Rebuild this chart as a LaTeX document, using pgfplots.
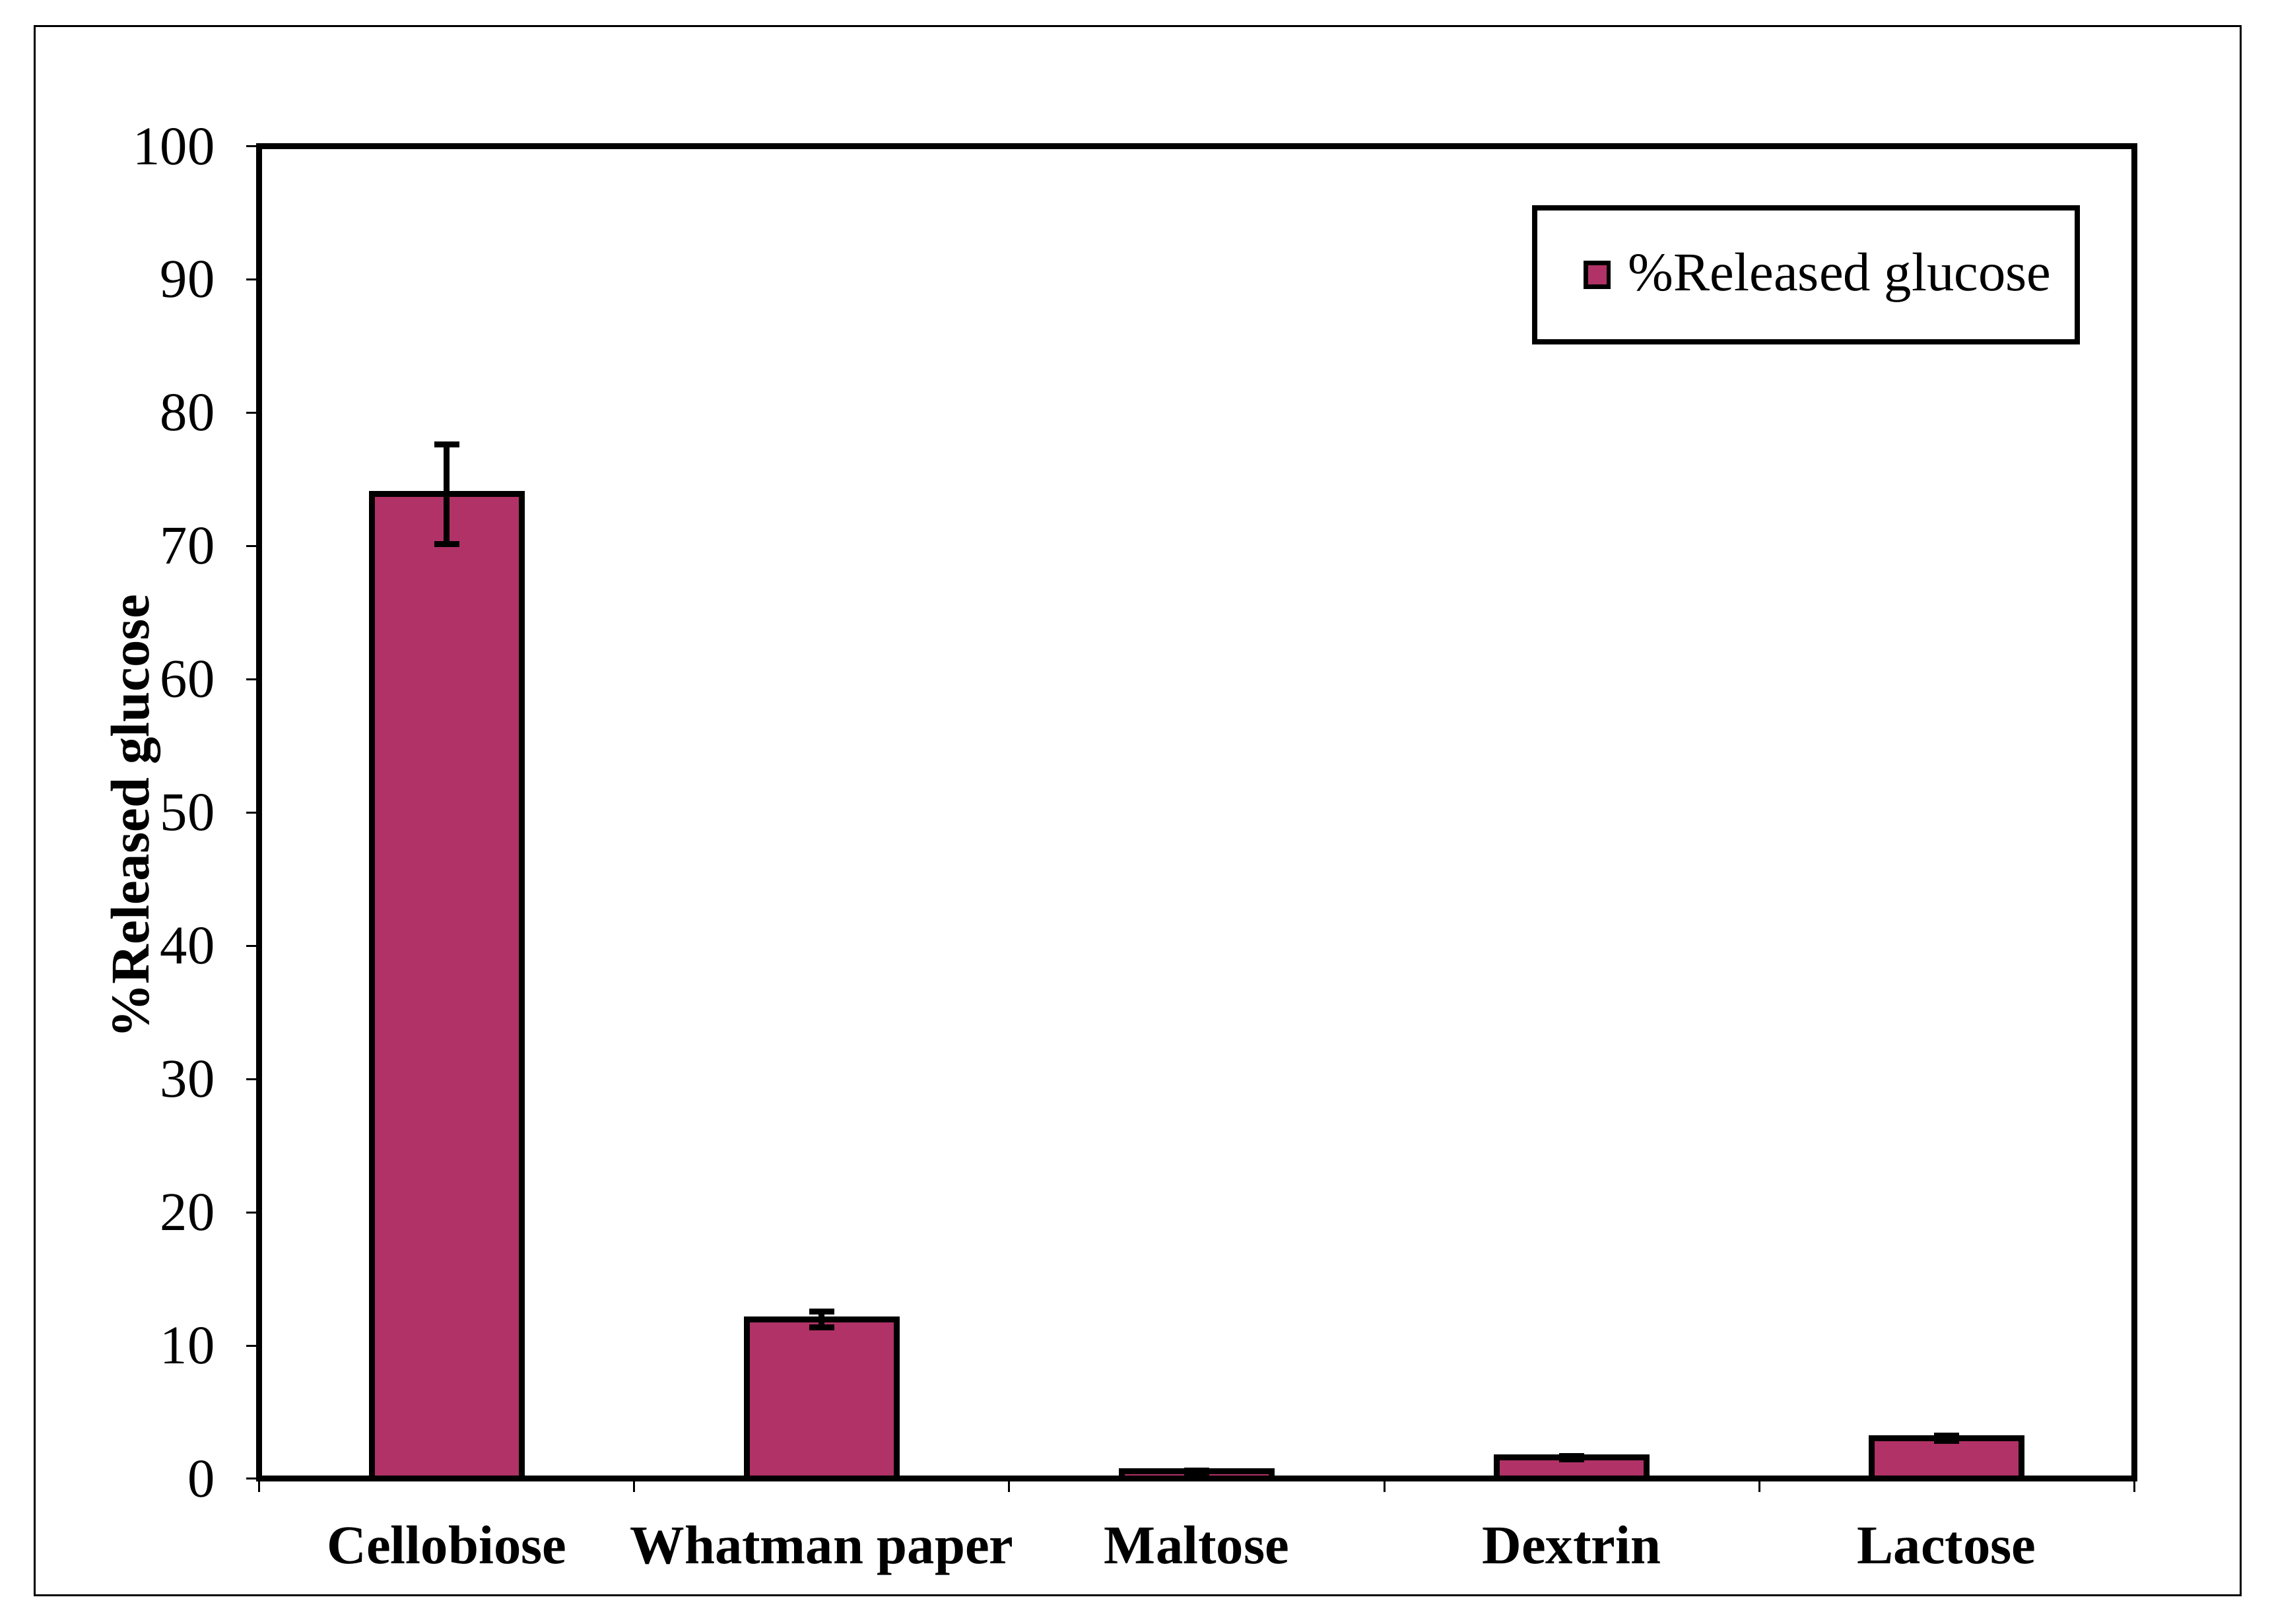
\documentclass[border=0pt]{standalone}
\usepackage{pgfplots}
\pgfplotsset{compat=1.18}
\usepackage{fontspec}
\setmainfont{Liberation Serif}
\definecolor{barpink}{RGB}{177,50,103}
\begin{document}
\begin{tikzpicture}
\begin{axis}[
  name=ax,
  scale only axis,
  width=426pt, height=302.85pt,
  ybar, bar width=0.4,
  xmin=-0.5, xmax=4.5,
  ymin=0, ymax=100,
  ytick={0,10,...,100},
  xtick={0,1,2,3,4},
  xticklabels={Cellobiose,Whatman paper,Maltose,Dextrin,Lactose},
  minor xtick={-0.5,0.5,1.5,2.5,3.5,4.5},
  major x tick style={draw=none},
  xtick pos=bottom, ytick pos=left,
  tick align=outside,
  major tick length=3pt, minor tick length=3pt,
  tick style={line width=0.45pt, black},
  axis line style={line width=1.35pt},
  /pgf/number format/assume math mode=true,
  yticklabel style={font=\fontsize{12.4}{14}\selectfont, xshift=-3.6pt},
  xticklabel style={font=\fontsize{12.4}{14}\selectfont\bfseries, anchor=base, yshift=-16.3pt},
  ylabel={\%Released glucose},
  ylabel style={font=\fontsize{12.4}{14}\selectfont\bfseries, at={(axis description cs:-0.0657,0.497)}, anchor=center},
  legend style={at={(0.971,0.956)}, anchor=north east, draw=black, line width=1.2pt,
    font=\fontsize{12.4}{14}\selectfont, inner xsep=5.9pt, inner ysep=10.2pt,
    nodes={inner sep=0pt},
    /tikz/every odd column/.append style={column sep=4pt}},
]
\addplot[fill=barpink, draw=black, line width=1.35pt,
  legend image code/.code={\path (-5pt,0pt); \draw[fill=barpink, draw=black, line width=1pt] (0pt,-2.7pt) rectangle (5.2pt,2.7pt);},
  error bars/.cd, y dir=both, y explicit,
  error bar style={line width=1.35pt, black},
  error mark options={rotate=90, mark size=2.9pt, line width=1.35pt, black}]
  table[x=x, y=y, y error=e] {
x y e
0 73.9 3.75
1 11.95 0.6
2 0.55 0.07
3 1.6 0.12
4 3.05 0.18
};
\addlegendentry{\%Released glucose}
\end{axis}
\draw[line width=0.45pt] ([shift={(-51pt,-26.55pt)}]ax.south west) rectangle ([shift={(450.15pt,330.15pt)}]ax.south west);
\path ([shift={(-58.95pt,-33pt)}]ax.south west) rectangle ([shift={(457.35pt,336.15pt)}]ax.south west);
\end{tikzpicture}
\end{document}
